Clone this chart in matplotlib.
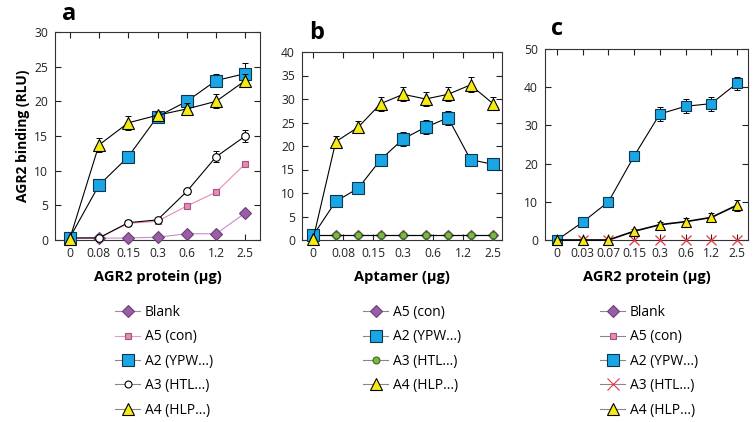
import matplotlib
matplotlib.use("Agg")
import matplotlib.pyplot as plt
from matplotlib.lines import Line2D
import numpy as np

plt.rcParams["font.family"] = ["Open Sans", "DejaVu Sans"]

W, H = 754, 422

# ---------- данные ----------
# панель a
a_ticks = ["0", "0.08", "0.15", "0.3", "0.6", "1.2", "2.5"]
a_blank = [0.2, 0.25, 0.3, 0.4, 0.9, 0.9, 3.9]
a_a5 = [0.2, 0.3, 2.4, 2.7, 4.9, 6.9, 11.0]
a_a2 = [0.3, 7.9, 12.0, 17.8, 20.0, 23.0, 24.0]
a_a2_err = [0.3, 0.4, 0.4, 0.6, 0.9, 1.0, 1.5]
a_a3 = [0.3, 0.3, 2.5, 2.9, 7.0, 12.0, 15.0]
a_a3_err = [0.2, 0.2, 0.2, 0.3, 0.4, 0.8, 0.8]
a_a4 = [0.1, 13.7, 16.9, 18.0, 18.9, 20.0, 23.0]
a_a4_err = [0.2, 1.0, 1.0, 0.5, 0.8, 1.0, 1.0]

# панель b (9 точек, 7 подписей)
b_ticks = ["0", "0.08", "0.15", "0.3", "0.6", "1.2", "2.5"]
b_a5 = [1.0, 1.0, 1.0, 1.0, 1.0, 1.0, 1.0, 1.0, 1.0]
b_a2 = [1.0, 8.2, 11.0, 17.1, 21.5, 24.0, 26.0, 17.1, 16.1]
b_a2_err = [0.3, 0.6, 0.6, 0.8, 1.5, 1.5, 1.5, 0.8, 0.6]
b_a3 = [1.0, 1.0, 1.0, 1.0, 1.0, 1.0, 1.0, 1.0, 1.0]
b_a4 = [0.3, 20.9, 24.0, 29.0, 31.0, 30.0, 31.0, 33.0, 29.0]
b_a4_err = [0.2, 1.3, 1.3, 1.5, 1.5, 1.5, 1.5, 1.6, 1.4]

# панель c
c_ticks = ["0", "0.03", "0.07", "0.15", "0.3", "0.6", "1.2", "2.5"]
c_blank = [0, 0, 0, 0, 0, 0, 0, 0]
c_a5 = [0, 0, 0, 0, 0, 0, 0, 0]
c_a2 = [0.0, 4.7, 10.0, 22.0, 33.0, 35.0, 35.7, 41.0]
c_a2_err = [0.3, 0.5, 0.6, 1.2, 1.8, 1.8, 1.8, 1.8]
c_a3 = [0, 0, 0, 0, 0, 0, 0, 0]
c_a4 = [0.0, 0.0, 0.0, 2.3, 4.0, 4.8, 5.9, 9.1]
c_a4_err = [0.2, 0.2, 0.2, 0.5, 0.6, 1.0, 1.2, 1.5]

PURPLE = "#9a5ea6"
PINK = "#ea88b8"
BLUE = "#1aa6e4"
YELLOW = "#f7ea10"
GREEN = "#7bb843"
RED = "#e8343f"

TICK_FS = 8.7
LABEL_FS = 10.5
LEG_FS = 10


def px_axes(fig, left, right, top, bottom):
    return fig.add_axes([left / W, 1 - bottom / H, (right - left) / W, (bottom - top) / H])


def style_axes(ax):
    ax.tick_params(direction="in", top=True, right=True, length=4, width=0.8,
                   labelsize=TICK_FS, colors="#222222", pad=5)
    for s in ax.spines.values():
        s.set_linewidth(0.8)
        s.set_color("#333333")


def series(ax, x, y, err=None, marker="s", ms=7, mfc="w", mec="k", lc="k", lw=0.8, z=3):
    if err is not None:
        ax.errorbar(x, y, yerr=err, fmt="none", ecolor="k", elinewidth=0.7, capsize=2.5,
                    capthick=0.7, zorder=z)
    ax.plot(x, y, color=lc, lw=lw, marker=marker, ms=ms, mfc=mfc, mec=mec, mew=0.8,
            zorder=z + 0.5, clip_on=False)


def legend_at(fig, handles, labels, x, y):
    fig.legend(handles, labels, loc="upper left", bbox_to_anchor=(x / W, 1 - y / H),
               frameon=False, fontsize=LEG_FS, handlelength=1.8, handletextpad=0.35,
               labelspacing=0.68, borderaxespad=0, borderpad=0)


def h(marker, ms, mfc, mec, lc="#888888"):
    return Line2D([], [], color=lc, lw=0.8, marker=marker, ms=ms, mfc=mfc, mec=mec, mew=0.8)


fig = plt.figure(figsize=(W / 100, H / 100), dpi=100)

# ---------- a ----------
ax = px_axes(fig, 55, 260, 32, 240)
xa = np.arange(len(a_ticks))
series(ax, xa, a_blank, marker="D", ms=6, mfc=PURPLE, mec="#6b3f76", lc="#c58fcc")
series(ax, xa, a_a5, marker="s", ms=5, mfc=PINK, mec="#a05580", lc=PINK)
series(ax, xa, a_a3, a_a3_err, marker="o", ms=5.5, mfc="w", mec="k")
series(ax, xa, a_a2, a_a2_err, marker="s", ms=8, mfc=BLUE, mec="#0d3550", z=4)
series(ax, xa, a_a4, a_a4_err, marker="^", ms=8.5, mfc=YELLOW, mec="k", z=5)
ax.set_xlim(-0.5, 6.5)
ax.set_ylim(0, 30)
ax.set_xticks(xa)
ax.set_xticklabels(a_ticks)
ax.set_yticks(np.arange(0, 31, 5))
style_axes(ax)
ax.set_xlabel("AGR2 protein (µg)", fontsize=LABEL_FS, fontweight="bold", labelpad=7)
ax.set_ylabel("AGR2 binding (RLU)", fontsize=10, fontweight="bold", labelpad=3)
fig.text(62 / W, 1 - 14 / H, "a", fontsize=17, fontweight="bold", va="center")

legend_at(fig,
          [h("D", 6, PURPLE, "#6b3f76", "#b07cb8"), h("s", 5, PINK, "#a05580", "#d9a0c0"),
           h("s", 8, BLUE, "#0d3550"), h("o", 5, "w", "k"), h("^", 8.5, YELLOW, "k")],
          ["Blank", "A5 (con)", "A2 (YPW...)", "A3 (HTL...)", "A4 (HLP...)"], 115, 305)

# ---------- b ----------
ax = px_axes(fig, 302, 502, 52, 240)
xb = np.arange(len(b_a2))
series(ax, xb, b_a5, marker="D", ms=5, mfc=PURPLE, mec="#6b3f76")
series(ax, xb, b_a3, marker="o", ms=5, mfc=GREEN, mec="#3c6a1c")
series(ax, xb, b_a2, b_a2_err, marker="s", ms=8, mfc=BLUE, mec="#0d3550", z=4)
series(ax, xb, b_a4, b_a4_err, marker="^", ms=8.5, mfc=YELLOW, mec="k", z=5)
ax.set_xlim(-0.5, 8.4)
ax.set_ylim(0, 40)
ax.set_xticks(np.linspace(0, 8, len(b_ticks)))
ax.set_xticklabels(b_ticks)
ax.set_yticks(np.arange(0, 41, 5))
style_axes(ax)
ax.set_xlabel("Aptamer (µg)", fontsize=LABEL_FS, fontweight="bold", labelpad=7)
fig.text(309 / W, 1 - 33 / H, "b", fontsize=17, fontweight="bold", va="center")

legend_at(fig,
          [h("D", 6, PURPLE, "#6b3f76"), h("s", 8, BLUE, "#0d3550"),
           h("o", 5, GREEN, "#3c6a1c"), h("^", 8.5, YELLOW, "k")],
          ["A5 (con)", "A2 (YPW...)", "A3 (HTL...)", "A4 (HLP...)"], 363, 305)

# ---------- c ----------
ax = px_axes(fig, 545, 748, 49, 240)
xc = np.arange(len(c_ticks))
# Blank и A5 лежат на нуле и скрыты под осью
ax.plot(xc, c_blank, color="#333333", lw=0.6, zorder=1)
ax.plot(xc, c_a5, color="#333333", lw=0.6, zorder=1)
ax.plot(xc, c_a3, ls="none", marker="x", ms=7, mec=RED, mew=0.9, zorder=4, clip_on=False)
series(ax, xc, c_a2, c_a2_err, marker="s", ms=7, mfc=BLUE, mec="#0d3550", z=4)
series(ax, xc, c_a4, c_a4_err, marker="^", ms=7.5, mfc=YELLOW, mec="k", lw=1.2, z=5)
ax.set_xlim(-0.47, 7.43)
ax.set_ylim(0, 50)
ax.set_xticks(xc)
ax.set_xticklabels(c_ticks)
ax.set_yticks(np.arange(0, 51, 10))
style_axes(ax)
ax.set_xlabel("AGR2 protein (µg)", fontsize=LABEL_FS, fontweight="bold", labelpad=7)
fig.text(551 / W, 1 - 29 / H, "c", fontsize=17, fontweight="bold", va="center")

legend_at(fig,
          [h("D", 6, PURPLE, "#6b3f76"), h("s", 5, PINK, "#a05580"),
           h("s", 8, BLUE, "#0d3550"), h("x", 8, RED, RED),
           h("^", 8.5, YELLOW, "k")],
          ["Blank", "A5 (con)", "A2 (YPW...)", "A3 (HTL...)", "A4 (HLP...)"], 600, 305)

fig.savefig("out.png", dpi=100)
